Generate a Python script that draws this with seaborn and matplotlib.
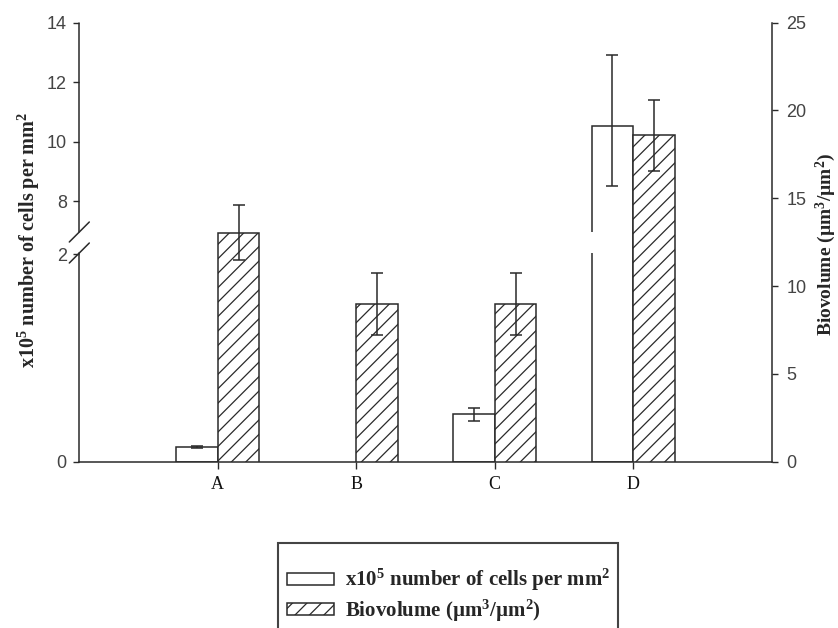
import numpy as np
import pandas as pd
import matplotlib
matplotlib.use("Agg")
import matplotlib.pyplot as plt
import matplotlib.transforms as mtransforms
from matplotlib.patches import Patch, Rectangle
import seaborn as sns

# ---------------- data ----------------
categories = ["A", "B", "C", "D"]
cells = [0.145, np.nan, 0.457, 10.54]          # x10^5 cells per mm^2 (B: no bar)
cells_err_low = [0.01, np.nan, 0.066, 2.03]
cells_err_high = [0.01, np.nan, 0.066, 2.37]
biovolume = [13.03, 8.98, 8.98, 18.6]          # um^3/um^2
biovolume_err = [1.57, 1.74, 1.74, 2.02]
left_ticks = [0, 2, 8, 10, 12, 14]
right_ticks = [0, 5, 10, 15, 20, 25]
cells_label = r"x10$^{5}$ number of cells per mm$^{2}$"
bio_label = r"Biovolume (µm$^{3}$/µm$^{2}$)"

# ---------------- style ----------------
DPI = 130                 # dpi chosen for the hatch spacing; point sizes are rescaled below
k = 100.0 / DPI


def pt(x):
    return x * k


sns.set_style("white")
plt.rcParams.update({
    "font.family": ["Liberation Sans", "DejaVu Sans"],
    "mathtext.fontset": "custom",
    "mathtext.rm": "Liberation Serif:bold",
    "mathtext.it": "Liberation Serif:bold",
    "mathtext.bf": "Liberation Serif:bold",
    "mathtext.default": "rm",
    "hatch.linewidth": pt(0.9),
    "hatch.color": "#222222",
})
INK = "#2a2a2a"
LW = pt(1.1)
HATCH = "///"

# broken left scale: 0-2 (lower), compressed gap, 8-14 (upper)
brk_v = np.array([0.0, 2.0, 8.0, 14.0])
brk_t = np.array([0.0, 207.2, 260.3, 439.0]) / 439.0


def fwd(v):
    v = np.asarray(v, dtype=float)
    out = np.interp(v, brk_v, brk_t)
    lo = (brk_t[1] - brk_t[0]) / (brk_v[1] - brk_v[0])
    hi = (brk_t[3] - brk_t[2]) / (brk_v[3] - brk_v[2])
    out = np.where(v < brk_v[0], v * lo, out)
    out = np.where(v > brk_v[-1], brk_t[-1] + (v - brk_v[-1]) * hi, out)
    return out


def inv(t):
    t = np.asarray(t, dtype=float)
    out = np.interp(t, brk_t, brk_v)
    lo = (brk_t[1] - brk_t[0]) / (brk_v[1] - brk_v[0])
    hi = (brk_t[3] - brk_t[2]) / (brk_v[3] - brk_v[2])
    out = np.where(t < brk_t[0], t / lo, out)
    out = np.where(t > brk_t[-1], brk_v[-1] + (t - brk_t[-1]) / hi, out)
    return out


W_PX, H_PX = 838, 628
fig = plt.figure(figsize=(W_PX / DPI, H_PX / DPI), dpi=DPI)
ax_l, ax_r, ax_b, ax_t = 79.3, 771.7, 461.7, 22.7
ax = fig.add_axes([ax_l / W_PX, 1 - ax_b / H_PX, (ax_r - ax_l) / W_PX, (ax_b - ax_t) / H_PX])
ax.set_yscale("function", functions=(fwd, inv))
ax.set_ylim(0, 14)
ax2 = ax.twinx()

series_order = ["cells", "bio"]
df_cells = pd.DataFrame({
    "cat": categories * 2,
    "series": ["cells"] * 4 + ["bio"] * 4,
    "value": list(cells) + [np.nan] * 4,
})
df_bio = pd.DataFrame({
    "cat": categories * 2,
    "series": ["cells"] * 4 + ["bio"] * 4,
    "value": [np.nan] * 4 + list(biovolume),
})
pal = {"cells": "white", "bio": "white"}

sns.barplot(data=df_cells, x="cat", y="value", hue="series", hue_order=series_order,
            order=categories, palette=pal, saturation=1, width=0.6, dodge=True,
            edgecolor=INK, linewidth=LW, errorbar=None, legend=False, ax=ax)
sns.barplot(data=df_bio, x="cat", y="value", hue="series", hue_order=series_order,
            order=categories, palette=pal, saturation=1, width=0.6, dodge=True,
            edgecolor=INK, linewidth=LW, errorbar=None, legend=False, ax=ax2)
for p in ax2.patches:
    p.set_hatch(HATCH)

xpos = np.arange(len(categories))
ax.errorbar(xpos - 0.15, cells, yerr=[cells_err_low, cells_err_high], fmt="none",
            ecolor=INK, elinewidth=LW, capsize=pt(4.3), capthick=LW, zorder=5)
ax2.errorbar(xpos + 0.15, biovolume, yerr=biovolume_err, fmt="none",
             ecolor=INK, elinewidth=LW, capsize=pt(4.3), capthick=LW, zorder=5)

# axes limits / ticks
ax.set_xlim(-1, 4)
ax.set_ylim(0, 14)
ax2.set_ylim(0, 25)
ax.set_yticks(left_ticks)
ax.set_yticklabels([str(t) for t in left_ticks])
ax.yaxis.set_minor_locator(matplotlib.ticker.NullLocator())
ax2.set_yticks(right_ticks)
ax.set_xticks(xpos)
ax.set_xticklabels(categories, fontfamily="Liberation Serif", fontsize=pt(13), color="#111111")
ax.set_xlabel("")
ax.set_ylabel("")
ax2.set_ylabel("")
ax.tick_params(axis="x", direction="out", length=pt(5.2), width=pt(1.0), color=INK,
               pad=pt(5), bottom=True)
ax.tick_params(axis="y", direction="out", length=pt(4.0), width=pt(1.0), color=INK,
               pad=pt(5), labelsize=pt(13), labelcolor="#444444", left=True)
ax2.tick_params(axis="y", direction="out", length=pt(4.5), width=pt(1.0), color=INK,
                pad=pt(6), labelsize=pt(13), labelcolor="#444444", right=True)
ax.grid(False)
ax2.grid(False)

for a in (ax, ax2):
    a.spines["top"].set_visible(False)
    a.spines["left"].set_visible(False)
    a.spines["right"].set_visible(False)
ax.spines["bottom"].set_color(INK)
ax.spines["bottom"].set_linewidth(LW)
ax2.spines["bottom"].set_visible(False)
ax2.spines["right"].set_visible(True)
ax2.spines["right"].set_color(INK)
ax2.spines["right"].set_linewidth(LW)

# broken left spine with slashes
gap_lo, gap_hi = (ax_b - 253) / (ax_b - ax_t), (ax_b - 232) / (ax_b - ax_t)
ax.plot([0, 0], [0, gap_lo], transform=ax.transAxes, color=INK, lw=LW, clip_on=False)
ax.plot([0, 0], [gap_hi, 1], transform=ax.transAxes, color=INK, lw=LW, clip_on=False)
dx = 10 / (ax_r - ax_l)
dy = 10 / (ax_b - ax_t)
for yc in (gap_lo, gap_hi):
    ax.plot([-dx, dx], [yc - dy, yc + dy], transform=ax.transAxes, color=INK, lw=LW,
            clip_on=False)

# break gap on the tall D cells bar
tallest = max(ax.patches, key=lambda p: p.get_height())
blend = mtransforms.blended_transform_factory(ax.transData, ax.transAxes)
ax.plot([tallest.get_x()] * 2, [gap_lo, gap_hi], transform=blend, color="white", lw=pt(3),
        zorder=6, solid_capstyle="butt")

# axis labels
ax.set_ylabel(cells_label, fontfamily="Liberation Serif", fontweight="bold", fontsize=pt(14.5))
ax.yaxis.set_label_coords((42 - ax_l) / (ax_r - ax_l), (ax_b - 240) / (ax_b - ax_t))
ax2.set_ylabel(bio_label, fontfamily="Liberation Serif", fontweight="bold", fontsize=pt(14),
               rotation=90)
ax2.yaxis.set_label_coords((814 - ax_l) / (ax_r - ax_l), (ax_b - 244) / (ax_b - ax_t))

# legend (frame drawn separately, extending past the bottom edge)
handles = [
    Patch(facecolor="white", edgecolor=INK, linewidth=LW, label=cells_label),
    Patch(facecolor="white", edgecolor=INK, linewidth=LW, hatch=HATCH, label=bio_label),
]
fig.legend(handles=handles, loc="upper left",
           bbox_to_anchor=(287 / W_PX, 1 - 567 / H_PX), frameon=False, borderpad=0,
           borderaxespad=0, handlelength=2.25, handleheight=0.5, handletextpad=0.55,
           labelspacing=0.2,
           prop={"family": "Liberation Serif", "weight": "bold", "size": pt(15)})
fig.patches.append(Rectangle((278 / W_PX, -0.05), 340 / W_PX, 0.05 + (H_PX - 543) / H_PX,
                             transform=fig.transFigure, fill=False, edgecolor="#444444",
                             linewidth=pt(1.5)))

fig.savefig("out.png", dpi=DPI)
